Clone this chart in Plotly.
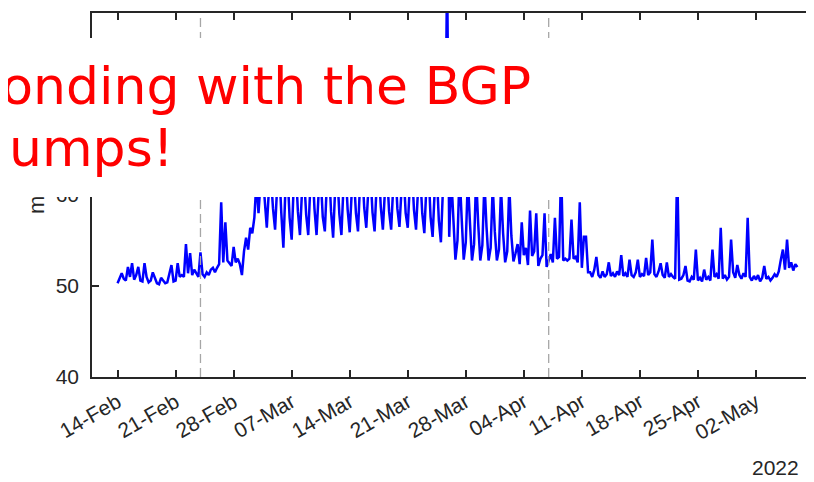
import pandas as pd
import plotly.graph_objects as go

# ---------------- data (6-hourly samples starting 14-Feb-2022 00:00) ----------------
start_time = "2022-02-14 00:00"
sample_step = "6h"

# 14-Feb .. 02-Mar
feb_vals = [
    50.3, 50.9, 51.4, 50.8,  50.6, 52.1, 51.0, 52.5,  50.7, 51.2, 52.1, 50.6,
    50.5, 52.5, 51.0, 50.4,  50.6, 51.5, 50.8, 50.3,  50.2, 50.9, 50.6, 50.3,
    50.4, 51.3, 52.3, 50.5,  50.6, 52.5, 51.0, 51.2,  51.0, 54.6, 51.4, 53.6,
    51.2, 51.8, 51.3, 51.0,  53.7, 51.3, 51.0, 51.5,  51.2, 51.8, 52.0, 51.5,
    52.0, 52.4, 59.2, 52.6,  57.0, 52.8, 52.5, 52.2,  54.3, 52.6, 53.0, 52.4,
    51.2, 53.8, 55.3, 54.0,  56.4, 55.8, 57.5, 61.5,
]
# 03-Mar .. 25-Mar
mar_vals = [
    58.0, 61.5, 62.5, 59.0,  56.4, 60.5, 62.0, 58.5,  56.2, 61.0, 63.0, 58.0,
    54.2, 60.8, 62.5, 57.5,  55.1, 61.2, 63.0, 58.2,  55.6, 60.5, 62.0, 57.8,
    55.6, 61.0, 63.5, 58.5,  55.6, 60.2, 62.0, 57.6,  56.0, 61.5, 63.0, 58.2,
    55.3, 60.8, 62.5, 57.9,  55.6, 61.0, 63.0, 58.4,  55.9, 60.4, 62.2, 58.0,
    56.0, 61.3, 63.2, 58.6,  56.4, 60.7, 62.4, 58.1,  56.0, 61.2, 63.0, 58.7,
    56.2, 60.5, 62.5, 58.2,  56.2, 61.0, 63.3, 58.5,  56.5, 60.6, 62.6, 58.0,
    56.4, 61.2, 63.0, 58.4,  56.2, 60.8, 62.4, 58.0,  55.8, 61.0, 63.0, 57.6,
    55.4, 60.5, 62.5, 57.2,  54.8, 60.8, 62.0, 85.0,
]
# 26-Mar .. 11-Apr
apr_vals = [
    55.4, 62.0, 58.0, 52.9,  55.0, 62.5, 57.5, 52.9,  54.8, 61.8, 57.0, 52.8,
    54.6, 62.0, 56.8, 52.8,  54.5, 61.5, 56.5, 52.8,  54.2, 61.0, 56.0, 52.8,
    54.0, 60.8, 55.8, 52.6,  53.8, 61.0, 55.5, 52.7,  53.6, 54.6, 52.4, 57.0,
    53.4, 54.2, 52.3, 58.3,  53.3, 53.8, 58.0, 52.2,  53.0, 53.4, 58.0, 52.1,
    52.8, 53.5, 52.6, 57.5,  53.0, 53.2, 63.0, 52.8,  53.0, 52.8, 53.0, 57.3,
    53.0, 53.2, 52.6, 59.2,  52.0, 55.4, 55.4, 51.5,
]
# 12-Apr .. 07-May
late_vals = [
    51.5, 51.0, 51.8, 53.2,  51.2, 50.9, 51.6, 51.0,  51.3, 52.6, 51.1, 51.4,
    51.0, 51.6, 51.2, 53.4,  51.1, 51.4, 51.0, 52.9,  51.2, 51.0, 51.5, 52.9,
    51.0, 51.3, 51.1, 53.1,  51.2, 51.5, 55.1, 51.3,  51.0, 51.6, 52.5, 51.2,
    50.9, 52.6, 51.0, 51.3,  51.0, 50.8, 63.0, 50.7,  50.8, 51.2, 52.2, 50.6,
    50.5, 51.0, 50.7, 54.0,  50.6, 50.9, 50.5, 51.8,  50.7, 51.0, 50.6, 54.0,
    51.0, 51.3, 50.8, 56.4,  50.8, 51.2, 50.7, 51.0,  55.1, 51.5, 50.9, 52.3,
    51.2, 50.8, 51.4, 51.0,  57.5, 51.0, 50.6, 51.1,  50.7, 51.2, 50.5, 50.9,
    52.2, 50.8, 51.0, 50.6,  50.9, 51.3, 51.0, 51.6,  52.9, 54.0, 51.8, 55.1,
    52.0, 52.6, 51.7, 52.4,  52.1,
]

event_dates = ["2022-02-24", "2022-04-07"]
tick_dates = ["2022-02-14", "2022-02-21", "2022-02-28", "2022-03-07", "2022-03-14",
              "2022-03-21", "2022-03-28", "2022-04-04", "2022-04-11", "2022-04-18",
              "2022-04-25", "2022-05-02"]
y_ticks = [40, 50, 60, 70, 80]
x_range = ["2022-02-10 22:00", "2022-05-09 00:00"]
y_range = [40, 80]

y_label = "ms"
year_label = "2022"
overlay_line1 = "corresponding with the BGP"
overlay_line2 = "bumps!"

values = feb_vals + mar_vals + apr_vals + late_vals
times = pd.date_range(start_time, periods=len(values), freq=sample_step)

# ---------------- layout helpers ----------------
# page body has an 8px margin; figure covers page pixels 8..814 x 8..482
OFF = 8
W, H = 814 - OFF, 482 - OFF
ML, MT, MR = 92 - OFF, 13 - OFF, 0
MB = H - (377 - OFF)
PW, PH = W - ML - MR, H - MT - MB


def px_x(px):  # page pixel -> paper x
    return (px - OFF - ML) / PW


def px_y(py):  # page pixel -> paper y
    return (H - MB - (py - OFF)) / PH


axis_col = "#262626"
tick_font = dict(family="Liberation Sans, Arial, sans-serif", size=21, color=axis_col)

fig = go.Figure()
fig.add_trace(go.Scatter(x=times, y=values, mode="lines",
                         line=dict(color="#0000ff", width=2.5), hoverinfo="skip",
                         showlegend=False))

for d in event_dates:
    fig.add_shape(type="line", xref="x", yref="paper", x0=d, x1=d, y0=0, y1=1,
                  line=dict(color="#a6a6a6", width=1.3, dash="9px,5px"), layer="above")

fig.update_layout(
    width=W, height=H,
    margin=dict(l=ML, r=MR, t=MT, b=MB, autoexpand=False),
    paper_bgcolor="white", plot_bgcolor="white",
    xaxis=dict(range=x_range, type="date", tickvals=tick_dates, tickformat="%d-%b",
               tickangle=-30, ticks="inside", ticklen=7, tickwidth=1.5, tickcolor=axis_col,
               showline=True, linecolor=axis_col, linewidth=1.5, mirror="ticks",
               showgrid=False, zeroline=False, tickfont=tick_font, ticklabelstandoff=3),
    yaxis=dict(range=y_range, tickvals=y_ticks, ticks="inside", ticklen=7, tickwidth=1.5,
               tickcolor=axis_col, showline=True, linecolor=axis_col, linewidth=1.5,
               mirror="ticks", showgrid=False, zeroline=False, tickfont=tick_font,
               ticklabelstandoff=7),
)

# y label (partly hidden by the overlay box, drawn first)
fig.add_annotation(text=y_label, xref="paper", yref="paper", x=px_x(37), y=px_y(200),
                   xanchor="center", yanchor="middle", textangle=-90, showarrow=False,
                   font=dict(family="Liberation Sans, Arial, sans-serif", size=22, color=axis_col))
# white overlay box
fig.add_annotation(text=" ", xref="paper", yref="paper", x=px_x(0), y=px_y(38),
                   xanchor="left", yanchor="top", width=811, height=159,
                   bgcolor="white", borderpad=0, borderwidth=0, showarrow=False)
red_font = dict(family="DejaVu Sans, sans-serif", size=52, color="#ff0000")
fig.add_annotation(text=overlay_line1, xref="paper", yref="paper", x=px_x(533), y=px_y(86),
                   xanchor="right", yanchor="middle", showarrow=False, font=red_font)
fig.add_annotation(text=overlay_line2, xref="paper", yref="paper", x=px_x(176), y=px_y(148),
                   xanchor="right", yanchor="middle", showarrow=False, font=red_font)
# year label
fig.add_annotation(text=year_label, xref="paper", yref="paper", x=px_x(801), y=px_y(467),
                   xanchor="right", yanchor="middle", showarrow=False, font=tick_font)

fig.write_html("out.html", config={"displayModeBar": False})
